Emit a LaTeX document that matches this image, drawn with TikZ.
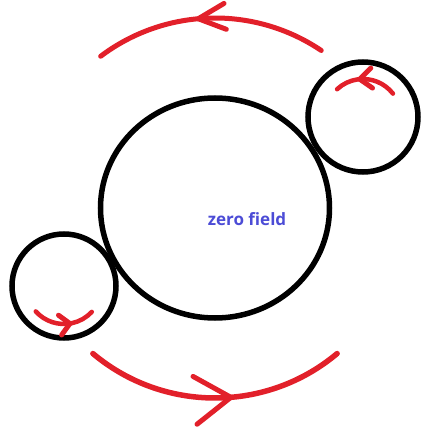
\documentclass[tikz,border=0pt]{standalone}
\usepackage{fontspec}
\newfontfamily\labelfont{Open Sans}
\usetikzlibrary{shapes.geometric,decorations.markings}
\definecolor{arcred}{RGB}{226,32,42}
\definecolor{fieldblue}{RGB}{76,76,214}
\begin{document}
\begin{tikzpicture}[x=1pt,y=1pt,
 ring/.style={draw,circle,line width=5.5pt,inner sep=0pt},
 flow/.style={draw=arcred,line width=5pt,line cap=round},
 barb/.style n args={3}{postaction={decorate},decoration={markings,
   mark=at position #1 with {\draw[arcred,line width=5pt,line cap=round,line join=round] (-#2,#3) -- (0,0) -- (-#2,-#3);}}}]
\useasboundingbox (0,0) rectangle (422,432);
\node[ring,ellipse,minimum width=229pt,minimum height=220pt] (core) at (215,224) {};
\node[ring,minimum size=110pt] (ringR) at (363,315) {};
\node[ring,minimum size=104pt] (ringL) at (64,146) {};
\node[text=fieldblue,font=\labelfont\bfseries\fontsize{17}{20}\selectfont] (lbl) at (247,213) {zero field};
% big arcs round the field
\draw[flow,barb={0.55}{27}{13}] ([shift={(56:190)}]core.center) arc[start angle=56,end angle=127,radius=190];
\draw[flow,line width=5.5pt,barb={0.56}{36}{24}] ([shift={(230:190)}]core.center) arc[start angle=230,end angle=310,radius=190];
% small arcs inside the rings
\draw[flow,line width=4.5pt,barb={0.6}{12}{10}] ([shift={(38:38)}]ringR.center) arc[start angle=38,end angle=133,radius=38];
\draw[flow,line width=4.5pt,barb={0.6}{10}{10}] ([shift={(222:38)}]ringL.center) arc[start angle=222,end angle=317,radius=38];
\end{tikzpicture}
\end{document}
